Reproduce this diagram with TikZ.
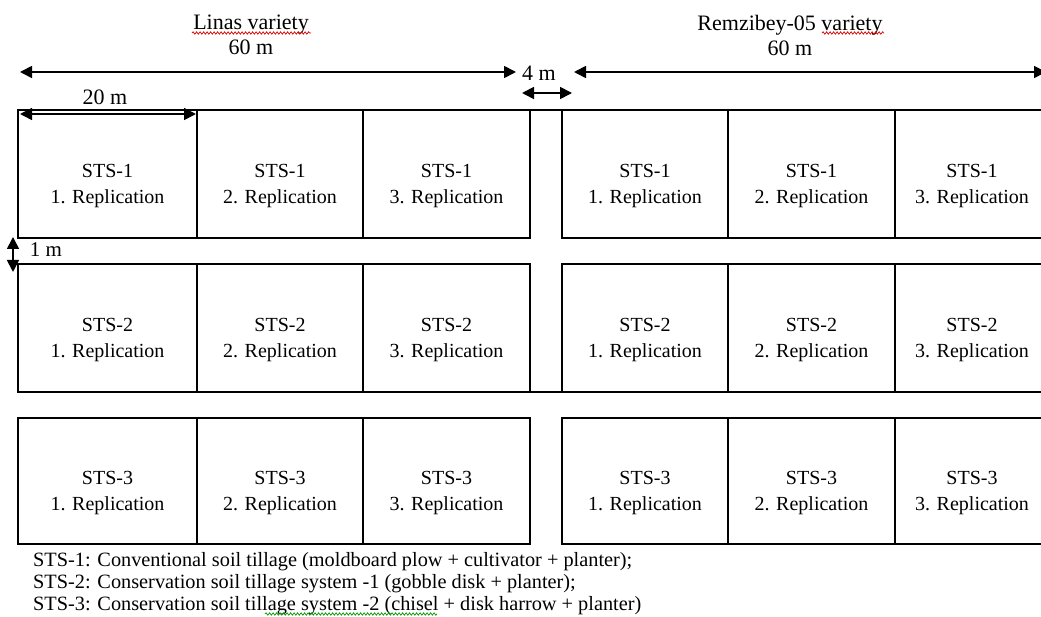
\documentclass[tikz,border=0pt]{standalone}
\usepackage{fontspec}
\setmainfont{Liberation Serif}
\usetikzlibrary{arrows.meta,decorations.pathmorphing}

\begin{document}
\begin{tikzpicture}[x=1pt,y=-1pt,
  plot/.style={draw, line width=1.5pt, inner sep=0pt, outer sep=0pt},
  boxline/.style={line width=1.5pt},
  plottext/.style={font=\fontsize{20}{26}\selectfont, align=center, inner sep=0pt},
  title/.style={font=\fontsize{22}{25}\selectfont, align=center, inner sep=0pt},
  dimlabel/.style={font=\fontsize{22}{25}\selectfont, inner sep=0pt},
  dimarrow/.style={line width=1.7pt,
    {Triangle[length=12pt,width=12pt]}-{Triangle[length=12pt,width=12pt]}},
  legend/.style={font=\fontsize{20.3}{22}\selectfont, anchor=west, inner sep=0pt},
  spellred/.style={draw=red!85!black, line width=0.7pt, decorate,
    decoration={snake, amplitude=1.2pt, segment length=3.5pt}},
  spellgreen/.style={draw=green!60!black, line width=0.7pt, decorate,
    decoration={snake, amplitude=1.2pt, segment length=3.5pt}},
]
\useasboundingbox (0,0) rectangle (1041,617);
\fill[white] (0,0) rectangle (1041,617);
\begin{scope}
\clip (0,0) rectangle (1041,617);

% plots: three tillage rows, two varieties with three replications each
\foreach \r/\ya/\yb in {1/110/238, 2/264/392, 3/418/544} {
  \foreach \c/\xa/\xb/\rep in {1/18/197/1, 2/197/363/2, 3/363/530/3,
                               4/562/728/1, 5/728/895/2, 6/895/1049/3} {
    \pgfmathsetmacro\pw{\xb-\xa}
    \pgfmathsetmacro\ph{\yb-\ya}
    \node[plot, minimum width=\pw pt, minimum height=\ph pt]
      (p\r\c) at ({(\xa+\xb)/2},{(\ya+\yb)/2}) {};
    \node[plottext] (t\r\c) at ([yshift=-12pt]p\r\c.center)
      {STS-\r\\\rep. Replication};
  }
}

% the 4 m path between the two varieties is closed at its ends
\draw[boxline] (p13.north east) -- (p14.north west);
\draw[boxline] (p23.south east) -- (p24.south west);

% variety titles
\node[title] (linas) at (251,35) {Linas variety\\60 m};
\node[title] (remz) at (790,35) {Remzibey-05 variety\\60 m};
\draw[spellred] (192,33) -- (311,33);
\draw[spellred] (822,33) -- (884,33);

% dimensions
\coordinate (a60l) at (20,72);
\coordinate (a60r) at (516,72);
\coordinate (b60l) at (574,72);
\coordinate (b60r) at (1046,72);
\draw[dimarrow] (a60l) -- (a60r);
\draw[dimarrow] (b60l) -- (b60r);

\node[dimlabel] (l4) at (539,73) {4 m};
\coordinate (a4l) at (522,93);
\coordinate (a4r) at (572,93);
\draw[dimarrow] (a4l) -- (a4r);

\node[dimlabel] (l20) at (105,97) {20 m};
\coordinate (a20l) at (20,114);
\coordinate (a20r) at (196,114);
\draw[dimarrow] (a20l) -- (a20r);

\node[dimlabel, font=\fontsize{21}{25}\selectfont] (l1) at (46,250) {1 m};
\coordinate (a1t) at (13,237);
\coordinate (a1b) at (13,272);
\draw[dimarrow] (a1t) -- (a1b);

% legend
\node[legend] (k1) at (33,562) {STS-1: Conventional soil tillage (moldboard plow + cultivator + planter);};
\node[legend] (k2) at (33,584) {STS-2: Conservation soil tillage system -1 (gobble disk + planter);};
\node[legend] (k3) at (33,606) {STS-3: Conservation soil tillage system -2 (chisel + disk harrow + planter)};
\draw[spellgreen] (265,614) -- (437,614);
\end{scope}
\end{tikzpicture}
\end{document}
